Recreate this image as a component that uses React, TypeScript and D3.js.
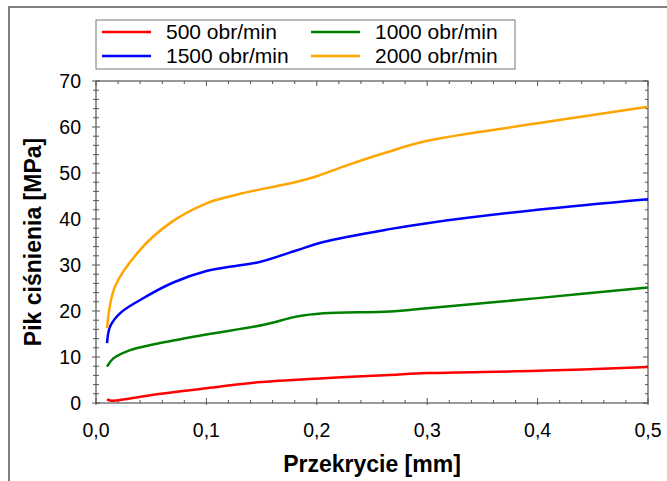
import React from "react";
import * as d3 from "d3";

const W = 667;
const H = 481;

const xTicks = [0, 0.1, 0.2, 0.3, 0.4, 0.5];
const xTickLabels = ["0,0", "0,1", "0,2", "0,3", "0,4", "0,5"];
const yTicks = [0, 10, 20, 30, 40, 50, 60, 70];

const seriesNames = ["500 obr/min", "1000 obr/min", "1500 obr/min", "2000 obr/min"];
const seriesColors = ["#ff0000", "#008000", "#0000ff", "#ffa500"];

const x500 = [0.01, 0.014, 0.055, 0.1, 0.146, 0.206, 0.266, 0.3, 0.4, 0.5];
const y500 = [0.8, 0.5, 1.9, 3.2, 4.5, 5.4, 6.1, 6.5, 7.0, 7.8];

const x1000 = [0.01, 0.0157, 0.031, 0.055, 0.1, 0.152, 0.182, 0.206, 0.266, 0.3, 0.4, 0.5];
const y1000 = [7.9, 9.7, 11.5, 12.9, 14.9, 17.0, 18.8, 19.5, 19.9, 20.6, 22.8, 25.1];

const x1500 = [0.01, 0.0127, 0.0217, 0.04, 0.07, 0.1, 0.121, 0.149, 0.182, 0.206, 0.266, 0.3, 0.4, 0.5];
const y1500 = [13.0, 16.6, 19.5, 22.4, 26.2, 28.7, 29.6, 30.7, 33.2, 35.0, 37.8, 39.1, 42.0, 44.3];

const x2000 = [0.01, 0.0172, 0.04, 0.067, 0.1, 0.121, 0.152, 0.182, 0.2, 0.224, 0.262, 0.3, 0.4, 0.5];
const y2000 = [16.3, 25.3, 33.3, 39.1, 43.4, 44.9, 46.6, 48.1, 49.3, 51.4, 54.4, 57.0, 60.8, 64.4];

const seriesX = [x500, x1000, x1500, x2000];
const seriesY = [y500, y1000, y1500, y2000];

const FONT = "'Liberation Sans', Arial, Helvetica, sans-serif";

export default function App() {
  const left = 96, right = 648, top = 81, bottom = 403;
  const x = d3.scaleLinear().domain([0, 0.5]).range([left, right]);
  const y = d3.scaleLinear().domain([0, 70]).range([bottom, top]);

  const line = d3
    .line<[number, number]>()
    .x((d) => x(d[0]))
    .y((d) => y(d[1]))
    .curve(d3.curveCatmullRom.alpha(0.5));

  const xMinor = d3.range(0, 0.5001, 0.02).filter((v) => Math.abs(Math.round(v * 10) - v * 10) > 1e-6);
  const yMinor = d3.range(0, 70.001, 2).filter((v) => v % 10 !== 0);

  const tickColor = "#555";

  const legendRows = [
    { i: 0, col: 0, row: 0 },
    { i: 1, col: 1, row: 0 },
    { i: 2, col: 0, row: 1 },
    { i: 3, col: 1, row: 1 },
  ];

  return (
    <svg
      width={W}
      height={H}
      style={{ position: "absolute", left: 0, top: 0, background: "#fff" }}
      fontFamily={FONT}
    >
      <rect x={0} y={0} width={W} height={H} fill="#fff" />
      {/* outer frame */}
      <rect x={9} y={7} width={700} height={520} fill="none" stroke="#555" strokeWidth={1.5} />

      {/* plot frame */}
      <rect x={left} y={top} width={right - left} height={bottom - top} fill="none" stroke={tickColor} strokeWidth={1.2} />

      {/* x ticks */}
      {xTicks.map((v) => (
        <g key={"xt" + v}>
          <line x1={x(v)} x2={x(v)} y1={bottom + 2} y2={bottom - 5} stroke={tickColor} strokeWidth={1} />
          <line x1={x(v)} x2={x(v)} y1={top} y2={top + 5} stroke={tickColor} strokeWidth={1} />
        </g>
      ))}
      {xMinor.map((v) => (
        <g key={"xm" + v}>
          <line x1={x(v)} x2={x(v)} y1={bottom} y2={bottom - 3} stroke={tickColor} strokeWidth={1} />
          <line x1={x(v)} x2={x(v)} y1={top} y2={top + 3} stroke={tickColor} strokeWidth={1} />
        </g>
      ))}
      {/* y ticks */}
      {yTicks.map((v) => (
        <g key={"yt" + v}>
          <line x1={left - 4} x2={left + 4} y1={y(v)} y2={y(v)} stroke={tickColor} strokeWidth={1} />
          <line x1={right} x2={right - 5} y1={y(v)} y2={y(v)} stroke={tickColor} strokeWidth={1} />
        </g>
      ))}
      {yMinor.map((v) => (
        <g key={"ym" + v}>
          <line x1={left - 3} x2={left + 3} y1={y(v)} y2={y(v)} stroke={tickColor} strokeWidth={1} />
          <line x1={right} x2={right - 3} y1={y(v)} y2={y(v)} stroke={tickColor} strokeWidth={1} />
        </g>
      ))}

      {/* tick labels */}
      {xTicks.map((v, i) => (
        <text key={"xl" + v} x={x(v)} y={437} textAnchor="middle" fontSize={19.5} fill="#000">
          {xTickLabels[i]}
        </text>
      ))}
      {yTicks.map((v) => (
        <text key={"yl" + v} x={81} y={y(v) + 7} textAnchor="end" fontSize={19.5} fill="#000">
          {String(v)}
        </text>
      ))}

      {/* axis titles */}
      <text x={372} y={472} textAnchor="middle" fontSize={23} fontWeight="bold" fill="#000">
        Przekrycie [mm]
      </text>
      <text
        transform={`translate(41,242) rotate(-90)`}
        textAnchor="middle"
        fontSize={23}
        fontWeight="bold"
        fill="#000"
      >
        Pik ciśnienia [MPa]
      </text>

      {/* series */}
      {seriesX.map((xs, si) => {
        const pts: [number, number][] = xs.map((xv, k) => [xv, seriesY[si][k]]);
        return (
          <path
            key={"s" + si}
            d={line(pts) || ""}
            fill="none"
            stroke={seriesColors[si]}
            strokeWidth={2.5}
            strokeLinejoin="round"
          />
        );
      })}

      {/* legend */}
      <rect x={96} y={20} width={419} height={49} fill="#fff" stroke="#777" strokeWidth={1} />
      {legendRows.map(({ i, col, row }) => {
        const lx = col === 0 ? 102 : 311;
        const ly = row === 0 ? 32 : 56;
        return (
          <g key={"lg" + i}>
            <line x1={lx} x2={lx + 49} y1={ly} y2={ly} stroke={seriesColors[i]} strokeWidth={2.5} />
            <text x={lx + 64} y={ly + 7} fontSize={21} fill="#000">
              {seriesNames[i]}
            </text>
          </g>
        );
      })}
    </svg>
  );
}
